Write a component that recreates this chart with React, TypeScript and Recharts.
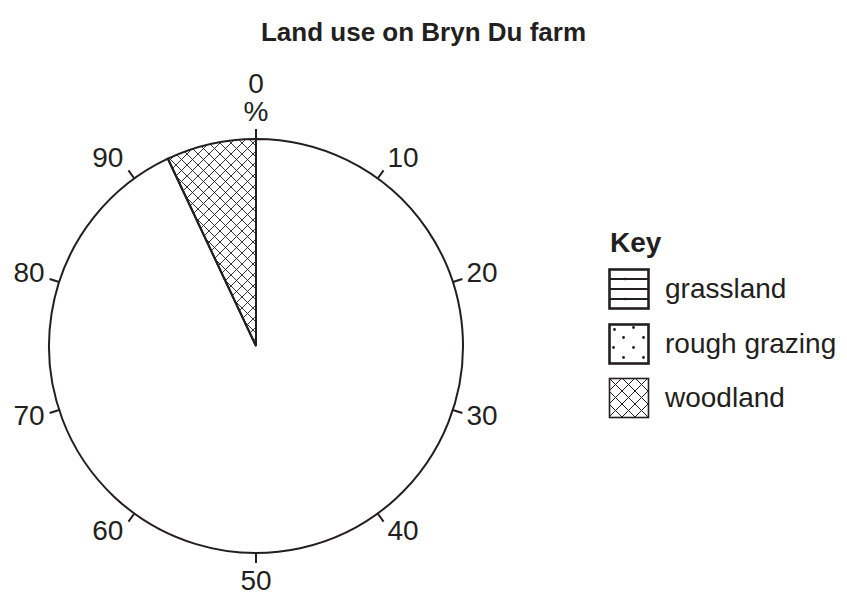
import React from 'react';
import { PieChart, Pie, Cell, PolarAngleAxis, Legend } from 'recharts';

const sliceNames = ['', 'woodland'];
const sliceValues = [93, 7];
const sliceFills = ['#ffffff', 'url(#woodlandHatch)'];
const tickValues = [0, 10, 20, 30, 40, 50, 60, 70, 80, 90];
const keyNames = ['grassland', 'rough grazing', 'woodland'];
const keyPatterns = ['grass', 'rough', 'wood'];

const data = sliceNames.map((n, i) => ({ name: n, value: sliceValues[i] }));
const INK = '#231f20';
const FONT = '"Liberation Sans", Arial, sans-serif';
const FS = 28;

const AngleTick = (props: any) => {
  const { x, y, payload } = props;
  const v = Number(payload.value);
  const th = (v * 3.6 * Math.PI) / 180;
  const s = Math.sin(th);
  const c = Math.cos(th);
  if (v === 0) {
    return (
      <g>
        <text x={x} y={y - 18} textAnchor="middle" dominantBaseline="central" fontSize={FS} fill={INK} fontFamily={FONT}>%</text>
        <text x={x} y={y - 46} textAnchor="middle" dominantBaseline="central" fontSize={FS} fill={INK} fontFamily={FONT}>0</text>
      </g>
    );
  }
  let anchor = 'middle';
  let dx = 0;
  let dy = -c * 13.6 - 2;
  if (s > 0.01) { anchor = 'start'; dx = 4; }
  else if (s < -0.01) { anchor = 'end'; dx = -5; }
  else { dy = 17; }
  return (
    <text x={x + dx} y={y + dy} textAnchor={anchor} dominantBaseline="central" fontSize={FS} fill={INK} fontFamily={FONT}>
      {payload.value}
    </text>
  );
};

const roughDots = [[5, 5], [24, 3], [14, 13], [34, 13], [4, 23], [24, 23], [14, 33], [34, 33]];

const Swatch = ({ kind }: { kind: string }) => {
  const id = 'sw-' + kind;
  return (
    <svg width={42} height={42} style={{ display: 'block' }}>
      <defs>
        {kind === 'wood' && (
          <pattern id={id} patternUnits="userSpaceOnUse" width={13} height={13} x={1} y={1}>
            <line x1={0} y1={0} x2={13} y2={13} stroke={INK} strokeWidth={1} />
            <line x1={13} y1={0} x2={0} y2={13} stroke={INK} strokeWidth={1} />
          </pattern>
        )}
      </defs>
      <rect x={1.5} y={1.5} width={39} height={39} fill={kind === 'wood' ? `url(#${id})` : '#fff'} stroke="none" />
      {kind === 'grass' && [11, 21, 31].map((yy) => (
        <line key={yy} x1={1.5} y1={yy} x2={40.5} y2={yy} stroke={INK} strokeWidth={1.8} />
      ))}
      {kind === 'grass' && [11, 31].map((yy) => (
        <line key={'v' + yy} x1={17} y1={yy - 1.5} x2={17} y2={yy + 1.5} stroke={INK} strokeWidth={0.6} />
      ))}
      {kind === 'rough' && roughDots.map(([cx, cy], i) => (
        <circle key={i} cx={cx + 1.5} cy={cy + 1.5} r={1.4} fill={INK} />
      ))}
      <rect x={1.5} y={1.5} width={39} height={39} fill="none" stroke={INK} strokeWidth={kind === 'wood' ? 1.6 : 2.6} />
    </svg>
  );
};

const boxTops = [48, 103, 157];

const KeyContent = () => (
  <div style={{ position: 'relative', width: 239, height: 210, fontFamily: FONT, color: INK }}>
    <div style={{ position: 'absolute', left: 2, top: 7, fontWeight: 'bold', fontSize: FS, lineHeight: '32px', whiteSpace: 'nowrap' }}>Key</div>
    {keyNames.map((n, i) => (
      <div key={n} style={{ position: 'absolute', left: 0, top: boxTops[i], display: 'flex', alignItems: 'center', height: 42, whiteSpace: 'nowrap' }}>
        <Swatch kind={keyPatterns[i]} />
        <span style={{ fontSize: FS, marginLeft: 15, lineHeight: '32px' }}>{n}</span>
      </div>
    ))}
  </div>
);

export default function App() {
  return (
    <div style={{ position: 'fixed', left: 0, top: 0, width: 847, height: 594, background: '#fff', overflow: 'hidden' }}>
      <div style={{ position: 'absolute', left: 0, top: 16, width: 847, textAlign: 'center', fontFamily: FONT, fontWeight: 'bold', fontSize: 26, lineHeight: '32px', color: INK, whiteSpace: 'nowrap' }}>
        Land use on Bryn Du farm
      </div>
      <PieChart
        width={847}
        height={594}
        margin={{ top: 0, right: 0, bottom: 0, left: 0 }}
        cx={256}
        cy={346}
        outerRadius={207}
        startAngle={90}
        endAngle={-270}
        style={{ position: 'absolute', left: 0, top: 0 }}
      >
        <defs>
          <pattern id="woodlandHatch" patternUnits="userSpaceOnUse" width={11} height={11}>
            <line x1={0} y1={0} x2={11} y2={11} stroke={INK} strokeWidth={0.9} />
            <line x1={11} y1={0} x2={0} y2={11} stroke={INK} strokeWidth={0.9} />
          </pattern>
        </defs>
        <Pie
          data={data}
          dataKey="value"
          nameKey="name"
          cx={256}
          cy={346}
          outerRadius={207}
          startAngle={90}
          endAngle={-270}
          stroke={INK}
          strokeWidth={2}
          isAnimationActive={false}
          legendType="none"
        >
          {data.map((d, i) => (
            <Cell key={i} fill={sliceFills[i]} />
          ))}
        </Pie>
        <PolarAngleAxis
          type="number"
          dataKey="value"
          domain={[0, 100]}
          ticks={tickValues}
          axisLine={false}
          tickLine={{ stroke: INK, strokeWidth: 2 }}
          tickSize={10}
          tick={<AngleTick />}
        />
        <Legend
          content={<KeyContent />}
          wrapperStyle={{ position: 'absolute', left: 608, top: 220, width: 239 }}
        />
      </PieChart>
    </div>
  );
}
